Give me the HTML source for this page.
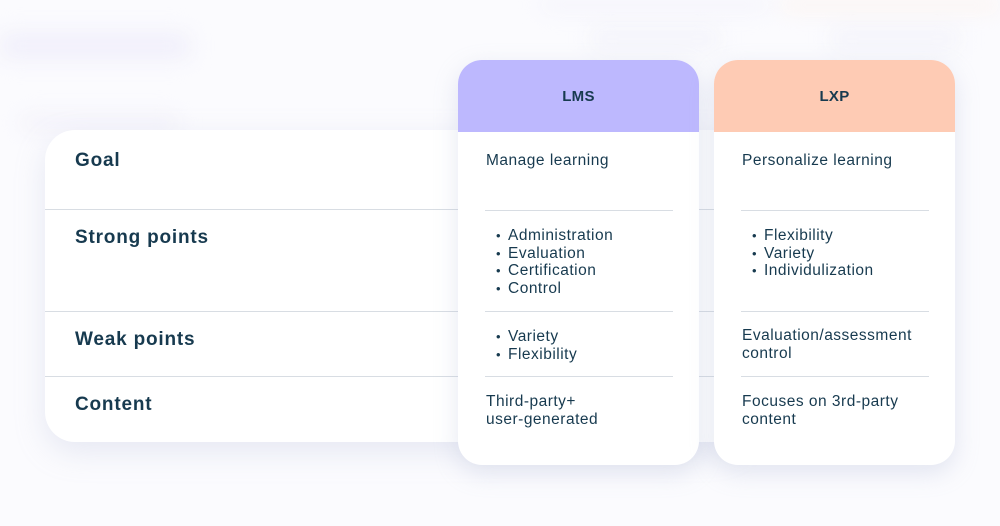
<!DOCTYPE html>
<html><head><style>
body{margin:0;width:1000px;height:526px;overflow:hidden;background:#fbfbfe;font-family:"Liberation Sans",sans-serif;color:#173a4f;position:relative}
.a{position:absolute}
.blur{position:absolute;background:#f1f0fb;filter:blur(10px);border-radius:8px}
.main{left:45px;top:130px;width:700px;height:312px;background:#fff;border-radius:30px;box-shadow:0 10px 30px rgba(170,180,210,0.25)}
.col{width:241px;height:405px;top:60px;background:#fff;border-radius:24px;overflow:hidden;box-shadow:0 8px 24px rgba(170,180,210,0.3)}
.hd{height:72px;display:flex;align-items:center;justify-content:center;font-weight:bold;font-size:15px;color:#173a4f;letter-spacing:.3px}
.lbl{font-weight:bold;font-size:19px;left:75px;letter-spacing:.8px}
.t{font-size:15.5px;line-height:17.5px;letter-spacing:.5px}
.hl{position:absolute;height:1px;background:#d8dde3}
ul{margin:0;padding:0;list-style:none}
li:before{content:"•";display:inline-block;width:12px;font-size:13px}
</style></head><body>
<div class="blur" style="left:0;top:32px;width:190px;height:28px"></div>
<div class="blur" style="left:590px;top:25px;width:130px;height:28px;background:#f5f5fb"></div>
<div class="blur" style="left:830px;top:25px;width:130px;height:28px;background:#f5f5fb"></div>
<div class="blur" style="left:540px;top:0;width:230px;height:10px;background:#f3f2fc"></div>
<div class="blur" style="left:780px;top:0;width:220px;height:10px;background:#fdf3ee"></div>
<div class="blur" style="left:20px;top:115px;width:160px;height:16px;background:#f3f2fa"></div>
<div class="a main"></div>
<div class="hl" style="left:45px;top:209px;width:700px"></div>
<div class="hl" style="left:45px;top:311px;width:700px"></div>
<div class="hl" style="left:45px;top:376px;width:700px"></div>
<div class="a lbl" style="top:150px">Goal</div>
<div class="a lbl" style="top:227px">Strong points</div>
<div class="a lbl" style="top:329px">Weak points</div>
<div class="a lbl" style="top:394px">Content</div>

<div class="a col" style="left:458px"><div class="hd" style="background:#bdb8fe">LMS</div></div>
<div class="a col" style="left:714px"><div class="hd" style="background:#fecbb4">LXP</div></div>

<div class="hl" style="left:485px;top:210px;width:188px"></div>
<div class="hl" style="left:485px;top:311px;width:188px"></div>
<div class="hl" style="left:485px;top:376px;width:188px"></div>
<div class="hl" style="left:741px;top:210px;width:188px"></div>
<div class="hl" style="left:741px;top:311px;width:188px"></div>
<div class="hl" style="left:741px;top:376px;width:188px"></div>

<div class="a t" style="left:486px;top:152px">Manage learning</div>
<ul class="a t" style="left:496px;top:227px"><li>Administration</li><li>Evaluation</li><li>Certification</li><li>Control</li></ul>
<ul class="a t" style="left:496px;top:328px"><li>Variety</li><li>Flexibility</li></ul>
<div class="a t" style="left:486px;top:393px">Third-party+<br>user-generated</div>

<div class="a t" style="left:742px;top:152px">Personalize learning</div>
<ul class="a t" style="left:752px;top:227px"><li>Flexibility</li><li>Variety</li><li>Individulization</li></ul>
<div class="a t" style="left:742px;top:327px">Evaluation/assessment<br>control</div>
<div class="a t" style="left:742px;top:393px">Focuses on 3rd-party<br>content</div>
</body></html>
